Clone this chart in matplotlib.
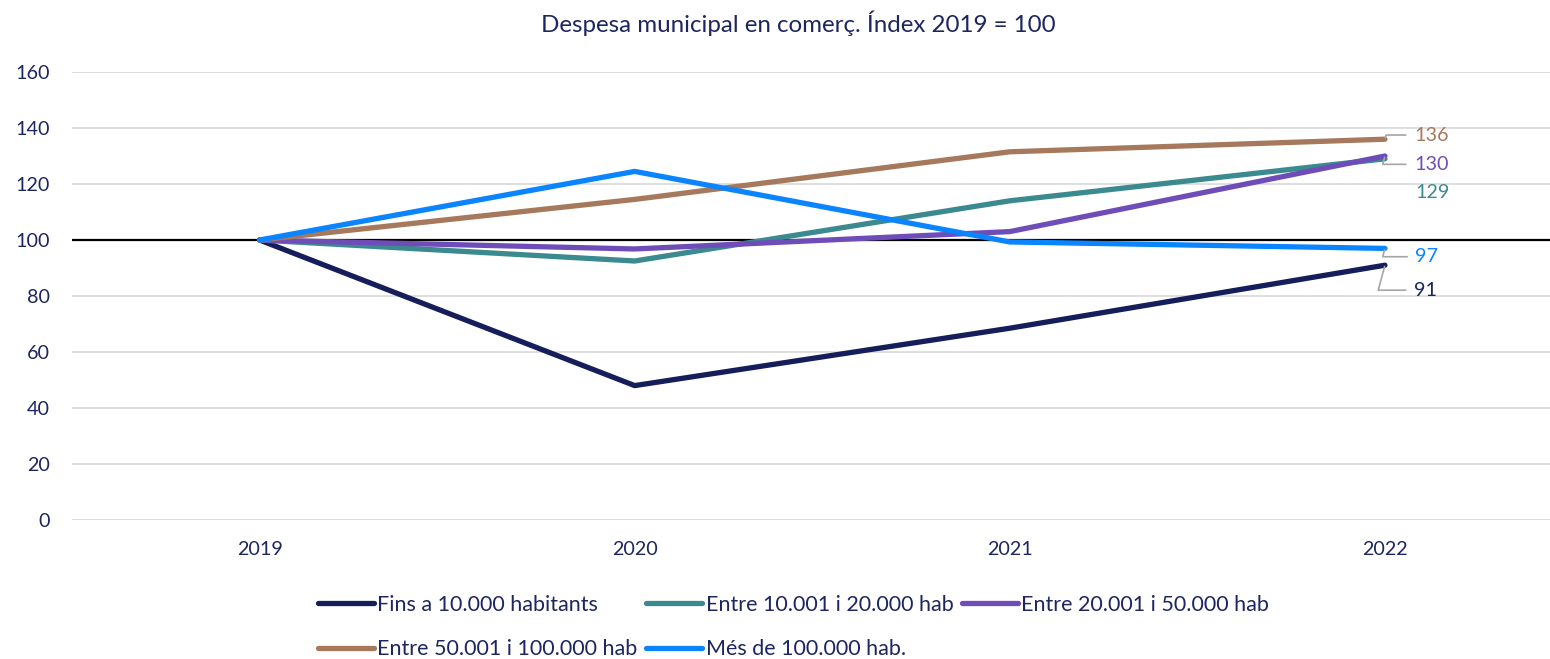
import matplotlib.pyplot as plt
import numpy as np

plt.rcParams['font.family'] = ['Lato', 'DejaVu Sans']

# data
years = ['2019', '2020', '2021', '2022']
fins_10000 = [100, 48, 68.5, 91]
entre_10_20 = [100, 92.5, 114, 129]
entre_20_50 = [100, 96.8, 103, 130]
entre_50_100 = [100, 114.5, 131.5, 136]
mes_100000 = [100, 124.5, 99.3, 97]

series = [
    ('Fins a 10.000 habitants', fins_10000, '#151d5a'),
    ('Entre 10.001 i 20.000 hab', entre_10_20, '#3b8a90'),
    ('Entre 20.001 i 50.000 hab', entre_20_50, '#6f4db8'),
    ('Entre 50.001 i 100.000 hab', entre_50_100, '#a6785c'),
    ('Més de 100.000 hab.', mes_100000, '#0a84ff'),
]

txt = '#1d2660'

fig = plt.figure(figsize=(15.5, 6.59), dpi=100)
ax = fig.add_axes([72/1550, 1-520/659, 1-72/1550, 448/659])

x = np.arange(len(years))
lines = []
for name, vals, col in series:
    ln, = ax.plot(x, vals, color=col, lw=3.8, label=name, solid_capstyle='round', zorder=3)
    lines.append(ln)

ax.set_ylim(0, 160)
ax.set_xlim(-0.5, 3.44)
ax.set_yticks(range(0, 161, 20))
ax.set_xticks(x)
ax.set_xticklabels(years)
ax.grid(axis='y', color='#d9d9d9', lw=1.2)
ax.set_axisbelow(True)
ax.axhline(100, color='black', lw=1.6, zorder=2)
for s in ax.spines.values():
    s.set_visible(False)
ax.tick_params(length=0, labelsize=14.2, colors=txt)
ax.tick_params(axis='y', pad=16)
ax.tick_params(axis='x', pad=15)

# data labels at 2022
labels = [
    (entre_50_100, '#a6785c', (21, 3), True),
    (entre_20_50, '#6f4db8', (21, -6), True),
    (entre_10_20, '#3b8a90', (22, -24), False),
    (mes_100000, '#0a84ff', (22, -6), True),
    (fins_10000, txt, (21, -18), True),
]
for vals, col, off, leader in labels:
    ap = None
    if leader:
        ap = dict(arrowstyle='-', color='#a6a6a6', lw=1.2,
                  connectionstyle='angle,angleA=0,angleB=75,rad=0',
                  shrinkA=4, shrinkB=1)
    ax.annotate(f'{vals[-1]:.0f}', xy=(3, vals[-1]), xytext=off, textcoords='offset points',
                color=col, fontsize=14.2, ha='left', va='center', arrowprops=ap)

fig.text(0.515, 1-23/659, 'Despesa municipal en comerç. Índex 2019 = 100',
         ha='center', va='center', fontsize=17.4, color=txt)

# row-major order for the legend
order = [0, 3, 1, 4, 2]
fig.legend([lines[i] for i in order], [series[i][0] for i in order],
           loc='center', bbox_to_anchor=(0.512, 1-627/659), ncol=3, frameon=False,
           fontsize=15.5, labelcolor=txt, handlelength=2.6, handletextpad=0.15,
           columnspacing=0.4, labelspacing=1.15)

plt.savefig('out.png', dpi=100)
